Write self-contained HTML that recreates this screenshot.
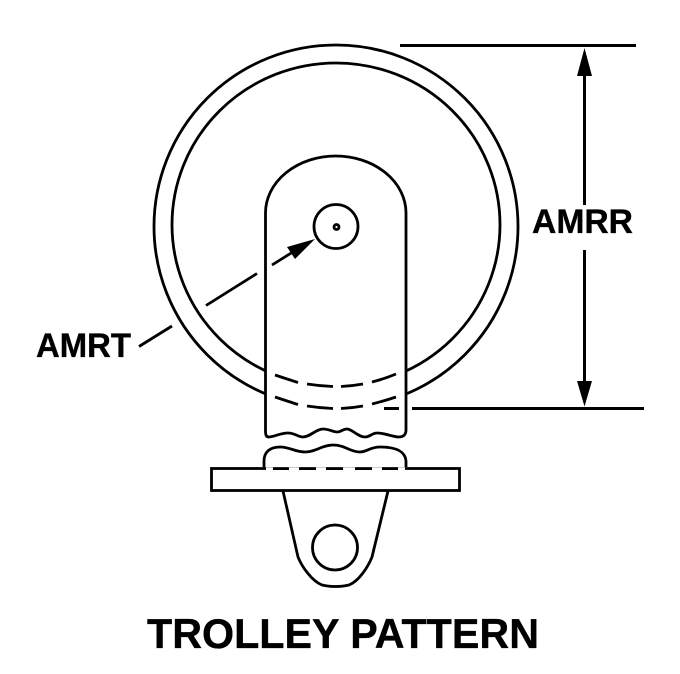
<!DOCTYPE html>
<html><head><meta charset="utf-8"><style>
html,body{margin:0;padding:0;background:#fff}
svg{display:block}
text{font-family:"Liberation Sans",Arial,sans-serif;font-weight:bold;fill:#000;stroke:#000;stroke-width:.35}
</style></head><body>
<svg width="680" height="674" viewBox="0 0 680 674" xmlns="http://www.w3.org/2000/svg">
<rect width="680" height="674" fill="#fff"/>
<g fill="none" stroke="#000" stroke-width="2.8">
<ellipse cx="336" cy="226.500" rx="182" ry="181.500"/>
<ellipse cx="336" cy="224.750" rx="164" ry="161.750"/>
<path fill="#fff" d="M265.500 219V213A70.250 57 0 0 1 406 213V430C406 435 403 437 399 437C393 437 385 433 377 433C372 433 370 437 365 437C358 437 352 429 347 429C343 429 341 432 337 432C333 432 329 429 323 429C316 429 310 437 303 437C298 437 295 433 288 433C280 433 274 437 269 437C266 437 265.500 435 265.500 430Z"/>
<path d="M275 375Q290 380 298 382.500M307 384Q320 386 333 386.500M341 386.500Q352 386 363 384M372 382Q384 379 396 374"/>
<path d="M275 397Q290 402 298 404.500M307 406Q320 408 333 408.500M341 408.500Q352 408 363 406M372 404Q384 401 396 397"/>
<rect x="211.500" y="468.500" width="248" height="22" fill="#fff"/>
<path d="M264 467V461C264 452 270 447 280 447C290 447 295 452 305 452C316 452 322 445 333 445C345 445 350 452 360 452C367 452 370 447 380 447C394 447 405 450 406 461V467"/>
<path d="M283 491L298 557C302 567 312 581 322 585C330 587 341 587 349 585C359 581 368 567 372 557L388 491"/>
<circle cx="335" cy="547.500" r="22.500"/>
<circle cx="336" cy="226.500" r="22"/>
<circle cx="336.500" cy="227" r="2.500"/>
<path d="M272 265L296 250M257 273.500L206 305.500M172 326L139 346.500"/>
<path d="M384 408.500H399M412 408.500H644M400 45.500H636M584.500 70V205M584.500 250V385" stroke-width="3"/>
</g>
<path fill="#fff" d="M266 467.200H405V470H266Z"/>
<path d="M273 467.200H289V470H273ZM299 467.200H316V470H299ZM326 467.200H343V470H326ZM355 467.200H372V470H355ZM382 467.200H398V470H382Z"/>
<path d="M315 239L287 247L295 259Z"/>
<path d="M584.500 48L592 76H577Z"/>
<path d="M584.500 406.500L592 381H577Z"/>
<text x="36" y="357" font-size="34.500" textLength="95" lengthAdjust="spacingAndGlyphs">AMRT</text>
<text x="532" y="233" font-size="34.500" textLength="101" lengthAdjust="spacingAndGlyphs">AMRR</text>
<text x="147" y="648" font-size="42" textLength="392" lengthAdjust="spacingAndGlyphs">TROLLEY PATTERN</text>
</svg>
</body></html>
